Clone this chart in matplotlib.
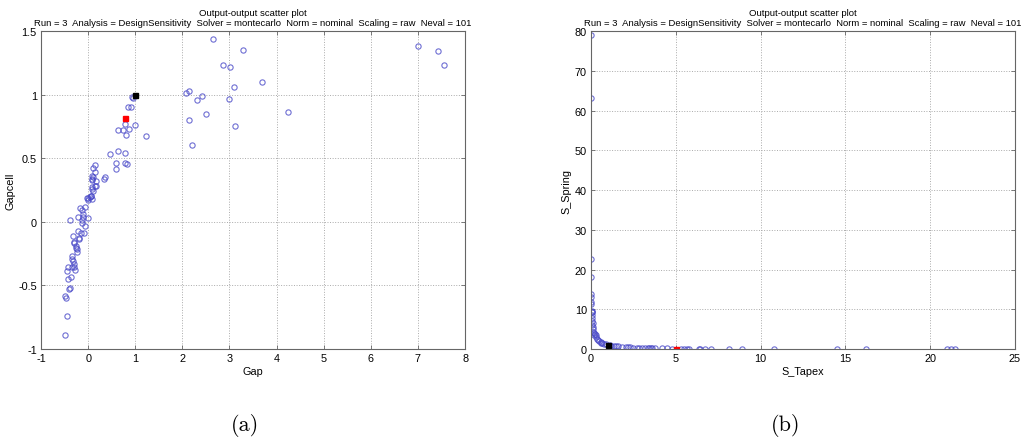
"""Output-output scatter plots (Gap vs Gapcell, S_Tapex vs S_Spring)"""

import numpy as np
from matplotlib import pyplot as plt
from matplotlib.ticker import FormatStrFormatter

plt.rcParams['font.family'] = ['Liberation Sans', 'DejaVu Sans']
plt.rcParams['axes.unicode_minus'] = False

TITLE = 'Output-output scatter plot\n' \
        'Run = 3  Analysis = DesignSensitivity  Solver = montecarlo  ' \
        'Norm = nominal  Scaling = raw  Neval = 101'

# (a) Gap vs Gapcell, Monte Carlo samples
gap = [2.64, 3.28, 2.86, 3.01, 3.69, 3.09, 2.07, 2.13, 2.42, 2.32, 2.99, 2.51,
       2.14, 3.12, 2.20, 4.25, 7.00, 7.42, 7.55,
       0.95, 0.94, 0.85, 0.90, 0.78, 1.00, 0.64, 0.73, 0.86, 0.80, 1.23,
       0.46, 0.64, 0.79, 0.60, 0.78, 0.83, 0.59, 0.35, 0.34, 0.15, 0.11,
       0.15, 0.085, 0.10, 0.16, 0.16, 0.08, 0.11, 0.06, -0.01,
       0.15, 0.09, 0.06, 0.035, 0.085, -0.02, 0.00, -0.06, -0.01, -0.18,
       -0.13, -0.12, -0.11, -0.22, -0.13, -0.38, -0.13, -0.06, -0.09, -0.155,
       -0.22, -0.325, -0.31, -0.29, -0.19, -0.19, -0.25, -0.23, -0.26, -0.24,
       -0.34, -0.34, -0.32, -0.30, -0.34, -0.31, -0.42, -0.28, -0.44, -0.37,
       -0.43, -0.39, -0.41, -0.49, -0.47, -0.44, -0.495, 0.08, 0.09]
gapcell = [1.44, 1.35, 1.23, 1.215, 1.10, 1.06, 1.016, 1.03, 0.99, 0.96, 0.966,
           0.85, 0.80, 0.753, 0.60, 0.866, 1.38, 1.346, 1.23,
           0.97, 0.98, 0.90, 0.90, 0.77, 0.76, 0.72, 0.72, 0.73, 0.68, 0.675,
           0.53, 0.556, 0.54, 0.46, 0.46, 0.455, 0.415, 0.35, 0.34, 0.45, 0.42,
           0.39, 0.34, 0.35, 0.32, 0.28, 0.26, 0.24, 0.20, 0.19,
           0.28, 0.275, 0.20, 0.197, 0.18, 0.19, 0.175, 0.12, 0.03, 0.11,
           0.09, 0.06, 0.04, 0.037, 0.018, 0.018, -0.008, -0.03, -0.087, -0.087,
           -0.07, -0.108, -0.157, -0.168, -0.13, -0.137, -0.19, -0.21, -0.205, -0.24,
           -0.27, -0.29, -0.31, -0.33, -0.354, -0.357, -0.357, -0.375, -0.383, -0.43,
           -0.45, -0.52, -0.53, -0.585, -0.60, -0.74, -0.89, 0.33, 0.36]
gap_nominal, gapcell_nominal = 0.78, 0.82
gap_ref, gapcell_ref = 1.0, 1.0

# (b) S_Tapex vs S_Spring
s_tapex = [0.0, 0.0, 0.0, 0.0, 0.0, 0.0, 0.0, 0.0, 0.04, 0.08, 0.06, 0.04,
           0.06, 0.08, 0.10, 0.12, 0.14, 0.16, 0.22, 0.27, 0.31, 0.35, 0.45,
           0.57, 0.67, 0.79, 1.18, 1.34, 1.57, 1.83, 2.08, 2.20, 2.50, 2.85,
           3.00, 3.20, 3.36, 3.55, 3.80, 4.20, 4.50, 4.75, 5.30, 5.50, 5.65,
           5.80, 6.35, 6.45, 6.70, 7.10, 8.15, 8.90, 10.8, 14.5, 16.2, 21.0,
           21.2, 21.45, 0.05, 0.10, 0.20, 0.40, 0.60, 1.45, 2.30, 2.70, 3.40,
           3.60, 0.9, 1.1]
s_spring = [78.9, 63.1, 22.6, 18.2, 13.8, 13.0, 11.8, 11.4, 9.6, 9.3, 8.5, 7.8,
            7.1, 6.0, 5.5, 5.0, 4.4, 4.0, 3.8, 3.4, 2.9, 2.5, 2.1,
            1.8, 1.4, 1.3, 0.84, 0.76, 0.67, 0.50, 0.42, 0.40, 0.34, 0.25,
            0.25, 0.17, 0.17, 0.17, 0.17, 0.17, 0.17, 0.08, 0.08, 0.08, 0.08,
            0.08, 0.08, 0.08, 0.08, 0.08, 0.08, 0.0, 0.0, 0.0, 0.0, 0.0,
            0.0, 0.0, 9.4, 6.5, 3.6, 2.3, 1.6, 0.7, 0.45, 0.3, 0.2,
            0.15, 1.2, 0.9]
s_tapex_nominal, s_spring_nominal = 5.0, 0.1
s_tapex_ref, s_spring_ref = 1.0, 1.0


def style_axes(ax):
    """MATLAB-like box, ticks and dotted grid"""
    for spine in ax.spines.values():
        spine.set_color('#666666')
        spine.set_linewidth(0.8)
    ax.tick_params(direction='in', top=True, right=True, length=3,
                   width=0.6, color='#666666', labelsize=7.8, pad=3)
    ax.grid(True, linestyle=':', color='#aaaaaa', linewidth=0.7)
    ax.set_axisbelow(True)
    ax.xaxis.set_major_formatter(FormatStrFormatter('%g'))
    ax.yaxis.set_major_formatter(FormatStrFormatter('%g'))


def scatter(ax, x, y, xn, yn, xr, yr):
    """Samples as open circles, nominal (red) and reference (black) squares"""
    ax.plot(x, y, 'o', mfc='none', mec='#4a4ac8', ms=3.8, mew=0.8, alpha=0.8)
    ax.plot(xn, yn, 's', color='red', ms=3.6)
    ax.plot(xr, yr, 's', color='black', ms=3.6)


figure = plt.figure(figsize=(10.21, 4.39), dpi=100)

ax_a = figure.add_axes([0.0402, 0.2027, 0.4153, 0.7244])
scatter(ax_a, gap, gapcell, gap_nominal, gapcell_nominal, gap_ref, gapcell_ref)
ax_a.set_xlim(-1, 8)
ax_a.set_ylim(-1, 1.5)
ax_a.set_xticks(np.arange(-1, 9, 1))
ax_a.set_yticks(np.arange(-1, 1.75, 0.5))
ax_a.set_xlabel('Gap', fontsize=7.8, labelpad=2)
ax_a.set_ylabel('Gapcell', fontsize=7.8, labelpad=2)
ax_a.set_title(TITLE, fontsize=6.8, linespacing=1.2, pad=4)
style_axes(ax_a)

ax_b = figure.add_axes([0.5788, 0.2027, 0.4153, 0.7244])
scatter(ax_b, s_tapex, s_spring, s_tapex_nominal, s_spring_nominal,
        s_tapex_ref, s_spring_ref)
ax_b.set_xlim(0, 25)
ax_b.set_ylim(0, 80)
ax_b.set_xticks(np.arange(0, 30, 5))
ax_b.set_yticks(np.arange(0, 90, 10))
ax_b.set_xlabel('S_Tapex', fontsize=7.8, labelpad=2)
ax_b.set_ylabel('S_Spring', fontsize=7.8, labelpad=2)
ax_b.set_title(TITLE, fontsize=6.8, linespacing=1.2, pad=4)
style_axes(ax_b)

# sub-figure captions
figure.text(0.240, 0.005, '(a)', family=['cmr10', 'DejaVu Serif'], fontsize=16,
            ha='center', va='bottom')
figure.text(0.769, 0.005, '(b)', family=['cmr10', 'DejaVu Serif'], fontsize=16,
            ha='center', va='bottom')

plt.savefig('out.png', dpi=100)
